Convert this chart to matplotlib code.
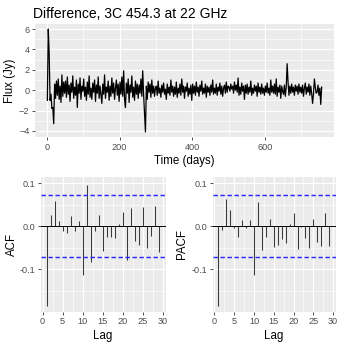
import numpy as np
import matplotlib
matplotlib.use("Agg")
import matplotlib.pyplot as plt

plt.rcParams['font.family'] = ['Liberation Sans', 'DejaVu Sans']

# differenced flux series (one value every 2.5 days)
flux_diff = [
    -1.0, 6.0, 3.6, -1.0, -0.4, -1.8, -1.7, -3.3, 0.6, -0.8, 0.9, -0.5, 1.1, -0.9, 0.4, -1.2, 1.5, -0.6, 0.8, -0.3,
    0.9, -0.7, 1.3, -0.4, 0.5, -1.1, 0.7, -0.2, 1.4, -0.8, 0.3, -0.5, 1.0, -1.7, 0.6, -0.3, 1.2, -0.9, 0.4, -0.1,
    1.1, -0.6, 0.3, -1.0, 0.8, -0.4, 1.4, -0.7, 0.2, -0.9, 0.7, -0.2, 1.0, -1.1, 0.5, -0.3, 1.3, -0.8, 0.4, -0.5,
    -1.3, 0.6, -0.4, 1.5, -0.8, 0.3, -0.2, 0.9, -1.0, 0.4, -0.6, 1.2, -0.3, 0.7, -0.9, 0.2, 1.0, -0.5, 0.6, -1.1,
    0.8, -0.4, 1.3, -0.6, 1.9, -0.9, -1.7, 0.7, -0.3, 1.1, -1.2, 0.5, -0.2, 1.4, -0.7, 0.3, -1.0, 0.9, -0.4, 0.6,
    -0.8, 0.5, -0.3, 1.1, -0.6, 1.9, -0.5, -2.4, -4.1, 0.4, -0.9, 0.8, -0.2, 0.6, -0.7, 1.0, -0.3, 0.4, -0.6, 0.2,
    0.4, -0.5, 0.9, -0.3, 0.2, -0.7, 0.5, -0.2, 0.7, -0.4, 0.1, -0.9, 0.6, -0.3, 0.3, -0.5, 1.0, -0.2, 0.4, -0.6,
    0.3, -0.4, 0.8, -0.7, 0.2, -0.3, 0.6, -0.5, 1.1, -0.2, 0.4, -0.8, 0.3, -0.1, 0.7, -0.6, 0.2, -0.4, 0.5, -1.0,
    0.6, -0.3, 0.4, -0.5, 0.8, -0.2, 0.3, -0.6, 0.5, -0.1, 0.9, -0.4, 0.2, -0.3, 0.6, -0.7, 0.4, -0.2, 0.3, -0.5,
    0.5, -0.2, 1.0, -0.4, 0.2, -0.3, 0.6, -0.5, 0.3, -0.1, 0.7, -0.4, 0.4, -0.6, 0.2, 0.5, -0.3, 0.8, -0.2, 0.4,
    0.3, -0.1, 0.6, 0.1, 0.4, -0.3, 0.8, 0.0, 0.5, -0.2, 1.2, -0.5, 0.3, -0.4, 0.7, -0.1, 0.4, -0.9, 0.5, -0.3,
    0.6, -0.4, 0.3, -0.2, 0.9, -0.5, 0.2, -0.3, 0.5, -0.1, 0.4, -0.6, 0.7, -0.2, 0.3, -0.4, 0.6, -0.3, 0.2, -0.5,
    0.4, -0.2, 0.7, -0.3, 0.2, -0.5, 1.0, -0.2, 0.4, -0.3, 0.6, -0.4, 1.1, -0.6, 0.3, -0.2, 0.5, -0.8, 0.4, -0.1,
    -0.4, 0.5, -0.6, 0.3, 2.6, 0.8, -0.5, 0.4, -0.3, 0.6, -0.2, 0.3, -0.5, 0.5, -0.1, 0.4, -0.4, 0.6, -0.2, 0.3,
    -0.3, 0.5, -0.6, 0.2, 0.7, -0.4, 0.3, -0.2, 0.6, -0.5, 0.4, -0.3, -1.3, -0.4, 1.1, 0.3, -0.3, -0.2, 0.5, -0.5,
    0.2, -1.4, 0.3,
]
days = np.arange(len(flux_diff)) * 2.5 + 1

lags = list(range(1, 30))
acf_vals = [-0.186, 0.026, 0.059, 0.013, -0.011, -0.016, 0.023, -0.011, 0.013, -0.113,
            0.096, -0.083, -0.012, 0.026, -0.058, -0.025, -0.025, -0.027, 0.005, 0.033,
            -0.078, 0.043, -0.034, -0.045, 0.044, -0.051, -0.022, 0.047, -0.060]
pacf_vals = [-0.186, -0.009, 0.063, 0.037, -0.004, -0.025, 0.014, -0.004, 0.014, -0.114,
             0.056, -0.056, -0.025, 0.017, -0.048, -0.044, -0.031, -0.040, 0.005, 0.031,
             -0.054, -0.001, -0.027, -0.051, 0.017, -0.038, -0.047, 0.031, -0.047]
ci = 0.0728

W, H = 342, 348
fig = plt.figure(figsize=(W / 100, H / 100), dpi=100)


def px_axes(left, top, right, bottom):
    return fig.add_axes([left / W, 1 - bottom / H, (right - left) / W, (bottom - top) / H])


def gg_style(ax):
    ax.set_facecolor('#EBEBEB')
    for s in ax.spines.values():
        s.set_visible(False)
    ax.grid(True, which='major', color='white', lw=0.9)
    ax.grid(True, which='minor', color='white', lw=0.45)
    ax.set_axisbelow(True)
    ax.tick_params(which='major', length=2.5, width=0.6, color='#333333',
                   labelsize=6.6, labelcolor='#4D4D4D', pad=1.5)
    ax.tick_params(which='minor', length=0)


# top: time series
ax = px_axes(35, 24, 334, 137)
gg_style(ax)
ax.plot(days, flux_diff, color='black', lw=0.9)
ax.set_xlim(-33, 790)
ax.set_ylim(-4.6, 6.5)
ax.set_xticks([0, 200, 400, 600])
ax.set_xticks([100, 300, 500, 700], minor=True)
ax.set_yticks([-4, -2, 0, 2, 4, 6])
ax.set_yticks([-3, -1, 1, 3, 5], minor=True)
fig.text(33 / W, 1 - 17.5 / H, 'Difference, 3C 454.3 at 22 GHz', fontsize=10, color='black',
         ha='left', va='baseline')
fig.text(184.5 / W, 1 - 161 / H, 'Time (days)', fontsize=8.3, ha='center', va='center')
fig.text(10 / W, 1 - 80.5 / H, 'Flux (Jy)', fontsize=8.3, ha='center', va='center', rotation=90)


def corr_panel(left, right, vals, label, lab_x):
    a = px_axes(left, 176.7, right, 311.7)
    gg_style(a)
    a.vlines(lags, 0, vals, color='#3a3a3a', lw=0.75)
    a.axhline(0, color='black', lw=0.7)
    a.axhline(ci, color='#2828FF', lw=1.05, ls=(0, (3, 1.8)))
    a.axhline(-ci, color='#2828FF', lw=1.05, ls=(0, (3, 1.8)))
    a.set_xlim(-0.5, 30.6)
    a.set_ylim(-0.199, 0.115)
    a.set_xticks([0, 5, 10, 15, 20, 25, 30])
    a.set_xticks([2.5, 7.5, 12.5, 17.5, 22.5, 27.5], minor=True)
    a.set_yticks([-0.1, 0.0, 0.1])
    a.set_yticklabels(['-0.1', '0.0', '0.1'])
    a.set_yticks([-0.15, -0.05, 0.05], minor=True)
    fig.text((left + right) / 2 / W, 1 - 336 / H, 'Lag', fontsize=8.3, ha='center', va='center')
    fig.text(lab_x / W, 1 - 244 / H, label, fontsize=8.3, ha='center', va='center', rotation=90)
    return a


corr_panel(40.5, 165.5, acf_vals, 'ACF', 12)
corr_panel(212.5, 335.5, pacf_vals, 'PACF', 182)

fig.savefig('out.png', dpi=100)
